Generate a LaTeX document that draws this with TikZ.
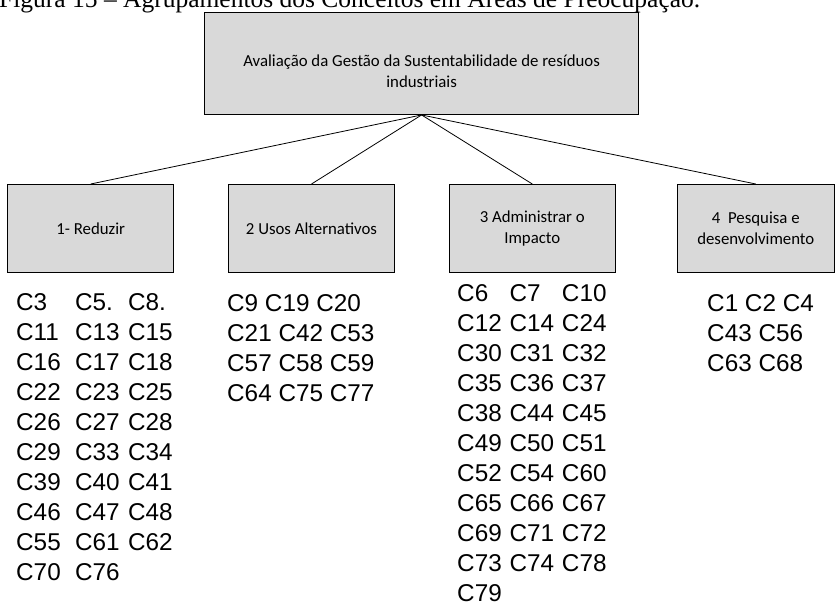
\documentclass[tikz,border=0pt]{standalone}
\usepackage{fontspec}
\setmainfont{Liberation Serif}
\newfontfamily\boxfont{Carlito}
\newfontfamily\listfont{Liberation Sans}
\definecolor{boxgray}{HTML}{D9D9D9}
\begin{document}
\begin{tikzpicture}[x=1pt,y=-1pt,
  box/.style={draw=black, line width=1.4pt, fill=boxgray, rectangle, inner sep=0pt,
    align=center, font=\boxfont\fontsize{16.8}{20.5}\selectfont},
  boxtext/.style={inner sep=0pt, align=center, font=\boxfont\fontsize{16.8}{21}\selectfont},
  link/.style={draw=black, line width=0.8pt},
  codes/.style={anchor=base west, inner sep=0pt, font=\listfont\fontsize{24.3}{30}\selectfont}]

\useasboundingbox (0,0) rectangle (835,602);
\clip (0,0) rectangle (835,602);

% figure caption (partly cut by the top edge)
\node[anchor=base west, inner sep=0pt, font=\fontsize{25.5}{30}\selectfont] (caption) at (-1,8)
  {Figura 15 -- Agrupamentos dos Conceitos em Áreas de Preocupação.};

% root box, its title set a little below the middle
\node[box, minimum width=434pt, minimum height=101.5pt] (top) at (421.6,63.5) {};
\node[boxtext] (toptext) at (421.6,71)
  {Avaliação da Gestão da Sustentabilidade de resíduos\\industriais};

% the four areas
\node[box, minimum width=166pt, minimum height=87.6pt] (b1) at (90.7,228.5) {1- Reduzir};
\node[box, minimum width=165.6pt, minimum height=87.6pt] (b2) at (311.5,228.5) {2 Usos Alternativos};
\node[box, minimum width=166pt, minimum height=87.6pt] (b3) at (532.3,228.5) {3 Administrar o\\Impacto};
\node[box, minimum width=157pt, minimum height=87.6pt] (b4) at (755.8,228.5) {4\ \ Pesquisa e\\desenvolvimento};

\draw[link] (top.south) -- (b1.north);
\draw[link] (top.south) -- (b2.north);
\draw[link] (top.south) -- (b3.north);
\draw[link] (top.south) -- (b4.north);

% concept codes under each area, one row per line (30pt apart)
\foreach \a/\b/\c [count=\i from 0] in
  {C3/C5./C8., C11/C13/C15, C16/C17/C18, C22/C23/C25, C26/C27/C28,
   C29/C33/C34, C39/C40/C41, C46/C47/C48, C55/C61/C62, C70/C76/{}}
  \node[codes] (ga\i) at (16,310.5+30*\i)
    {\makebox[59pt][l]{\a}\makebox[53pt][l]{\b}\c};

\foreach \t [count=\i from 0] in
  {C9 C19 C20, C21 C42 C53, C57 C58 C59, C64 C75 C77}
  \node[codes] (gb\i) at (227,311.5+30*\i) {\t};

\foreach \a/\b/\c [count=\i from 0] in
  {C6/C7/C10, C12/C14/C24, C30/C31/C32, C35/C36/C37, C38/C44/C45,
   C49/C50/C51, C52/C54/C60, C65/C66/C67, C69/C71/C72, C73/C74/C78, C79/{}/{}}
  \node[codes] (gc\i) at (457,301+30*\i)
    {\makebox[52.4pt][l]{\a}\makebox[52.4pt][l]{\b}\c};

\foreach \t [count=\i from 0] in
  {C1 C2 C4, C43 C56, C63 C68}
  \node[codes] (gd\i) at (707,311.5+30*\i) {\t};
\end{tikzpicture}
\end{document}
